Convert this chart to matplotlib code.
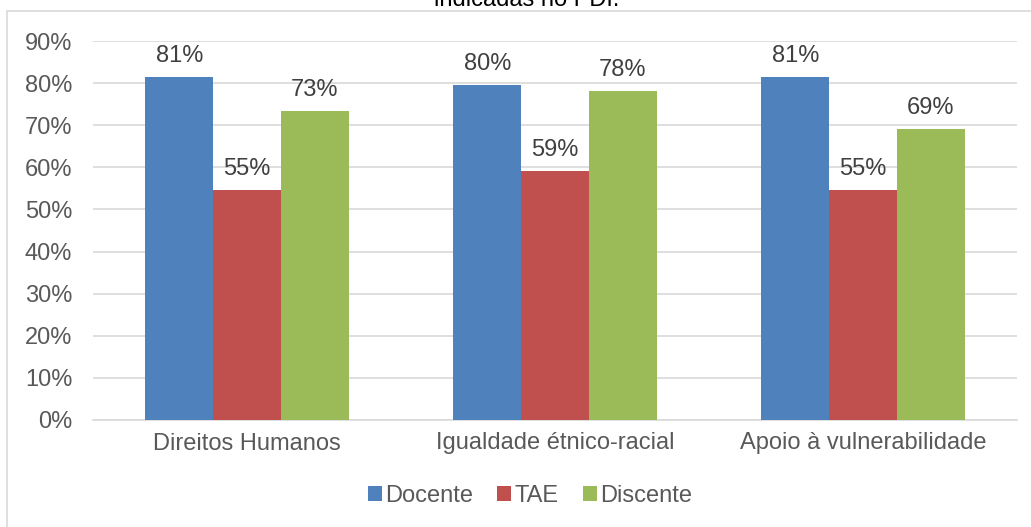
import matplotlib
matplotlib.use("Agg")
import matplotlib.pyplot as plt
import numpy as np
from matplotlib.patches import Rectangle

plt.rcParams['font.family'] = ['Liberation Sans', 'DejaVu Sans']

categories = ["Direitos Humanos", "Igualdade étnico-racial", "Apoio à vulnerabilidade"]
series_names = ["Docente", "TAE", "Discente"]
docente = [81.4, 79.6, 81.4]
tae = [54.6, 59.2, 54.6]
discente = [73.4, 78.2, 69.2]
yticks = [0, 10, 20, 30, 40, 50, 60, 70, 80, 90]
colors = ["#4F81BD", "#C0504D", "#9BBB59"]

FS = 17
fig = plt.figure(figsize=(10.31, 5.27), dpi=100)
ax = fig.add_axes([93/1031, 1-420/527, (1017-93)/1031, (420-41)/527])

x = np.arange(len(categories))
w = 0.22
for i, (vals, name) in enumerate(zip([docente, tae, discente], series_names)):
    xs = x + (i-1)*w
    bars = ax.bar(xs, vals, width=w, color=colors[i], label=name, zorder=3)
    for b, v in zip(bars, vals):
        ax.annotate(f"{v:.0f}%", (b.get_x()+b.get_width()/2, v), xytext=(0, 7),
                    textcoords="offset points", ha="center", va="bottom",
                    fontsize=FS, color="#404040")

ax.set_xlim(-0.5, 2.5)
ax.set_ylim(0, 90)
ax.set_yticks(yticks)
ax.set_yticklabels([f"{t}%" for t in yticks])
ax.set_xticks(x)
ax.set_xticklabels(categories)
ax.tick_params(axis='both', length=0, labelsize=FS, labelcolor="#595959")
ax.tick_params(axis='y', pad=15)
ax.tick_params(axis='x', pad=9)
ax.grid(axis='y', color="#d9d9d9", linewidth=1.2, zorder=0)
for s in ["top", "right", "left"]:
    ax.spines[s].set_visible(False)
ax.spines["bottom"].set_color("#d9d9d9")
ax.spines["bottom"].set_linewidth(1.2)

leg = fig.legend(loc="center", bbox_to_anchor=(530/1031, 1-496/527), ncol=3,
                 frameon=False, fontsize=FS, handlelength=0.6, handleheight=0.6,
                 handletextpad=0.15, columnspacing=1.0)
for t in leg.get_texts():
    t.set_color("#595959")

fig.patches.append(Rectangle((7/1031, -0.1), 1.2, 1-11/527+0.1, transform=fig.transFigure,
                             fill=False, edgecolor="#d9d9d9", linewidth=1.2))
fig.text(527/1031, 1-6/527, "indicadas no PDI.", ha="center", va="baseline",
         fontsize=FS, color="#000000")

fig.savefig("out.png", dpi=100)
